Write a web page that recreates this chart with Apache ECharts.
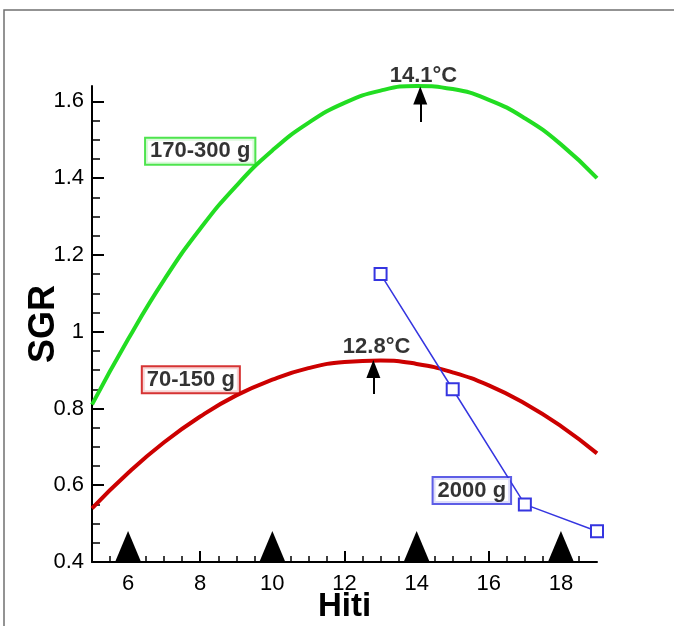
<!DOCTYPE html>
<html>
<head>
<meta charset="utf-8">
<script src="https://cdn.jsdelivr.net/npm/echarts@6/dist/echarts.min.js"></script>
<style>html,body{margin:0;padding:0;background:#fff;overflow:hidden}#c{width:674px;height:626px}</style>
</head>
<body>
<div id="c"></div>
<script>
// ---- data ----
const hiti = [5, 6, 7, 8, 9, 10, 11, 12, 13, 14, 15, 16, 17, 18, 19];
const sgr170_300 = [0.81, 0.98, 1.135, 1.268, 1.38, 1.472, 1.544, 1.596, 1.628, 1.64, 1.632, 1.604, 1.556, 1.488, 1.40];
const sgr70_150 = [0.54, 0.632, 0.712, 0.779, 0.834, 0.875, 0.905, 0.921, 0.925, 0.916, 0.894, 0.860, 0.813, 0.754, 0.683];
const hiti2000 = [13, 15, 17, 19];
const sgr2000 = [1.15, 0.85, 0.55, 0.48];
const triangleHiti = [6, 10, 14, 18];
const yTickLabels = [0.4, 0.6, 0.8, 1, 1.2, 1.4, 1.6];
const yMinorTicks = [0.45, 0.5, 0.55, 0.65, 0.7, 0.75, 0.85, 0.9, 0.95, 1.05, 1.1, 1.15, 1.25, 1.3, 1.35, 1.45, 1.5, 1.55];
const xTickLabels = [6, 8, 10, 12, 14, 16, 18];
const xMinorTicks = [5.5, 6.5, 7, 7.5, 8.5, 9, 9.5, 10.5, 11, 11.5, 12.5, 13, 13.5, 14.5, 15, 15.5, 16.5, 17, 17.5, 18.5];
const groupNames = ['170-300 g', '70-150 g', '2000 g'];
const groupLabelHiti = [8.0, 7.74, 15.53];
const groupLabelSgr = [1.47, 0.875, 0.586];
const optTemp = [14.1, 12.8];
const optPeakSgr = [1.615, 0.903];
const optBaseSgr = [1.546, 0.8375];
const optTempText = ['14.1°C', '12.8°C'];
const optTextHiti = [14.19, 12.89];
const optTextSgr = [1.666, 0.96];

const GREEN = '#22dd22', RED = '#cc0000', BLUE = '#3535e0';
const FONT = '"Liberation Sans", Arial, sans-serif';
const groupColors = [GREEN, RED, BLUE];

const chart = echarts.init(document.getElementById('c'), null, {renderer: 'canvas'});

const baseX = {
  type: 'value', min: 5, max: 19, interval: 1, gridIndex: 0,
  splitLine: {show: false}
};
const baseY = {
  type: 'value', min: 0.4, max: 1.64, interval: 0.2, gridIndex: 0,
  splitLine: {show: false}
};

const option = {
  backgroundColor: '#fff',
  animation: false,
  graphic: [{
    type: 'polyline', silent: true,
    shape: {points: [[4, 626], [4, 10], [674, 10]]},
    style: {stroke: '#707070', lineWidth: 1.5, fill: null}
  }],
  grid: {left: 92, right: 77, top: 86, bottom: 64, containLabel: false, outerBoundsMode: 'none'},
  xAxis: [
    Object.assign({}, baseX, {
      position: 'bottom',
      name: 'Hiti', nameLocation: 'middle', nameGap: 28, nameMoveOverlap: false,
      nameTextStyle: {fontFamily: FONT, fontWeight: 'bold', fontSize: 33, color: '#000', verticalAlign: 'top'},
      axisLine: {show: true, onZero: false, lineStyle: {color: '#000', width: 2}},
      axisTick: {show: true, inside: true, length: 11, customValues: xTickLabels, lineStyle: {color: '#000', width: 2}},
      axisLabel: {show: true, customValues: xTickLabels, margin: 11, fontFamily: FONT, fontSize: 22, color: '#000'}
    }),
    Object.assign({}, baseX, {
      position: 'bottom',
      axisLine: {show: false, onZero: false},
      axisTick: {show: true, inside: true, length: 6, customValues: xMinorTicks, lineStyle: {color: '#000', width: 1.5}},
      axisLabel: {show: false}
    })
  ],
  yAxis: [
    Object.assign({}, baseY, {
      position: 'left',
      name: 'SGR', nameLocation: 'middle', nameGap: 30, nameRotate: 90, nameMoveOverlap: false,
      nameTextStyle: {fontFamily: FONT, fontWeight: 'bold', fontSize: 36, color: '#000'},
      axisLine: {show: true, onZero: false, lineStyle: {color: '#000', width: 2}},
      axisTick: {show: true, inside: true, length: 12, customValues: yTickLabels, lineStyle: {color: '#000', width: 2}},
      axisLabel: {show: true, customValues: yTickLabels, margin: 8, fontFamily: FONT, fontSize: 22, color: '#000'}
    }),
    Object.assign({}, baseY, {
      position: 'left', offset: 0,
      axisLine: {show: false, onZero: false},
      axisTick: {show: true, inside: true, length: 8, customValues: yMinorTicks, lineStyle: {color: '#000', width: 1.5}},
      axisLabel: {show: false}
    })
  ],
  series: [
    {
      type: 'line', name: '170-300 g', smooth: true, showSymbol: false, clip: false,
      data: hiti.map((x, i) => [x, sgr170_300[i]]),
      lineStyle: {color: GREEN, width: 4}, itemStyle: {color: GREEN}, z: 3
    },
    {
      type: 'line', name: '70-150 g', smooth: true, showSymbol: false, clip: false,
      data: hiti.map((x, i) => [x, sgr70_150[i]]),
      lineStyle: {color: RED, width: 4}, itemStyle: {color: RED}, z: 3
    },
    {
      type: 'line', name: '2000 g', clip: false,
      symbol: 'emptyRect', symbolSize: 12, showSymbol: true,
      data: hiti2000.map((x, i) => [x, sgr2000[i]]),
      lineStyle: {color: BLUE, width: 1.5},
      itemStyle: {color: BLUE, borderColor: BLUE, borderWidth: 2}, z: 4
    },
    {
      type: 'scatter', name: 'markers', clip: false,
      symbol: 'triangle', symbolSize: [26, 31], symbolOffset: [0, '-50%'],
      data: triangleHiti.map(x => [x, 0.4]),
      itemStyle: {color: '#000', opacity: 1}, z: 5
    },
    {
      type: 'line', name: 'arrows', data: [], clip: false,
      markLine: {
        silent: true, animation: false,
        symbol: ['none', 'triangle'], symbolSize: [14, 18],
        lineStyle: {color: '#000', width: 2, type: 'solid', opacity: 1},
        itemStyle: {color: '#000'},
        label: {show: false},
        data: optTemp.map((t, i) => [{coord: [t, optBaseSgr[i]]}, {coord: [t, optPeakSgr[i]]}])
      }
    },
    {
      type: 'scatter', name: 'group labels', clip: false,
      symbolSize: 1, itemStyle: {color: 'transparent'}, z: 10,
      data: groupNames.map((n, i) => ({
        name: n, value: [groupLabelHiti[i], groupLabelSgr[i]],
        label: {borderColor: groupColors[i]}
      })),
      label: {
        show: true, position: 'inside', formatter: '{b}',
        fontFamily: FONT, fontWeight: 'bold', fontSize: 22, color: '#000',
        backgroundColor: '#fff', borderWidth: 2, padding: [3, 4, 0, 4]
      }
    },
    {
      type: 'scatter', name: 'temp labels', clip: false,
      symbolSize: 1, itemStyle: {color: 'transparent'}, z: 10,
      data: optTempText.map((n, i) => ({name: n, value: [optTextHiti[i], optTextSgr[i]]})),
      label: {
        show: true, position: 'inside', formatter: '{b}',
        fontFamily: FONT, fontWeight: 'bold', fontSize: 22, color: '#000'
      }
    }
  ]
};
chart.setOption(option);
</script>
</body>
</html>
